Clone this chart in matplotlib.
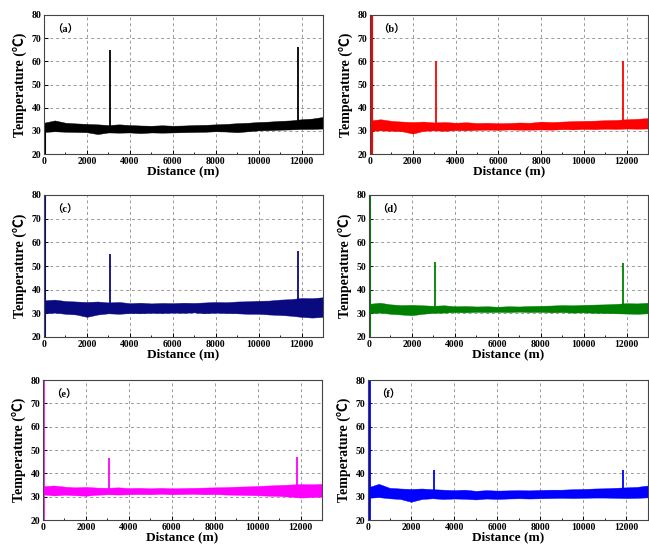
import matplotlib
matplotlib.use("Agg")
import matplotlib.pyplot as plt
import numpy as np

plt.rcParams['font.family'] = ['Liberation Serif', 'Noto Sans CJK SC']
plt.rcParams['font.weight'] = 'bold'

# distance grid of the envelope readings (m)
dist = np.arange(0, 13001, 500)

panel_tags = ["（a）", "（b）", "（c）", "（d）", "（e）", "（f）"]
colors = ["black", "#ff0000", "#0a0a80", "#008000", "#ff00ff", "#0000ff"]

# upper / lower edge of the noisy trace, read every 500 m
upper = [
    [33.5,34.5,33.5,33.2,33.0,32.8,32.5,32.8,32.5,32.3,32.2,32.4,32.2,32.3,32.5,32.6,32.8,33.0,33.3,33.5,33.8,34.0,34.3,34.5,35.0,35.3,36.0],
    [34.5,35.0,34.3,34.0,33.8,34.0,33.6,33.8,33.5,33.7,33.4,33.5,33.3,33.4,33.6,33.5,34.0,33.8,34.0,34.2,34.3,34.4,34.6,34.7,35.0,35.2,35.5],
    [35.5,35.8,35.2,35.0,34.8,35.0,34.6,34.8,34.3,34.5,34.2,34.4,34.3,34.5,34.4,34.6,34.8,34.7,35.0,35.1,35.3,35.4,35.8,36.0,36.5,36.4,36.8],
    [34.0,34.5,33.8,33.5,33.6,33.4,33.2,33.4,33.0,33.1,32.9,33.0,32.8,33.0,32.9,33.1,33.2,33.3,33.5,33.4,33.6,33.7,33.8,34.0,34.3,34.2,34.5],
    [34.5,34.8,34.3,34.0,34.2,33.9,33.8,34.0,33.7,33.8,33.6,33.8,33.6,33.7,33.8,33.9,34.0,34.1,34.3,34.4,34.6,34.8,35.0,35.2,35.4,35.3,35.5],
    [34.0,35.5,33.8,33.5,33.3,33.5,33.2,33.0,32.8,33.0,32.5,32.8,32.6,32.7,32.8,32.7,32.9,33.0,33.0,33.2,33.3,33.5,33.6,33.8,34.0,34.2,34.8],
]
lower = [
    [29.5,29.8,29.6,29.5,29.4,28.6,29.3,29.2,29.3,29.0,29.3,29.2,29.3,29.4,29.5,29.6,29.8,29.7,29.4,29.8,30.2,30.3,30.5,30.6,30.8,30.8,31.0],
    [30.0,30.2,30.0,29.8,28.8,30.0,30.2,30.0,30.3,30.2,30.4,30.5,30.4,30.6,30.5,30.5,30.6,30.5,30.7,30.6,30.8,30.7,30.9,30.8,31.0,30.9,31.0],
    [30.0,30.3,29.8,29.5,28.5,29.5,30.0,29.8,30.1,30.0,30.2,30.1,30.3,30.2,30.4,30.0,30.3,30.1,30.0,29.8,29.8,29.5,29.3,29.0,28.5,28.2,28.5],
    [30.0,30.3,29.8,29.5,29.2,29.8,30.2,30.3,30.5,30.4,30.6,30.5,30.6,30.5,30.7,30.5,30.6,30.4,30.5,30.3,30.4,30.2,30.1,30.0,29.9,29.8,30.0],
    [31.0,30.5,30.8,30.6,30.4,30.8,31.0,30.9,31.0,31.1,31.0,31.2,31.0,31.1,31.2,31.0,31.1,30.9,30.8,30.7,30.6,30.4,30.3,30.0,29.6,29.8,30.0],
    [29.5,29.8,29.3,29.0,27.8,29.0,29.3,29.0,29.2,29.1,28.8,29.2,29.0,29.2,29.3,29.2,29.3,29.4,29.5,29.4,29.5,29.6,29.6,29.5,29.4,29.5,29.7],
]

# hot spots
spike_x = [3080, 11820]
spike_base = [[31.0, 33.5], [32.0, 33.0], [32.5, 33.0], [32.0, 32.0], [32.5, 33.0], [31.0, 32.0]]
spike_peak = [[65, 66], [60, 60], [55, 56.5], [51.8, 51.3], [46.5, 47], [41.3, 41.3]]

# value at the first point (x ~ 0)
start_low = [20, 20, 20, 20, 20, 20]
start_high = [31, 80, 80, 80, 80, 80]
start_lw = [1.5, 3, 1.5, 1.5, 1.2, 2]

fig = plt.figure(figsize=(6.49, 5.45), dpi=100)
W, H = 649, 545
boxes = [(44, 15, 323, 154), (370, 15, 648, 154),
         (44, 195, 323, 337), (369, 195, 648, 337),
         (43, 380, 322, 520), (368, 380, 648, 520)]

for i in range(6):
    l, t, r, b = boxes[i]
    ax = fig.add_axes([l / W, 1 - b / H, (r - l) / W, (b - t) / H])
    c = colors[i]
    ax.fill_between(dist, lower[i], upper[i], color=c, lw=0.3, edgecolor=c)
    ax.vlines(spike_x, spike_base[i], spike_peak[i], color=c, lw=1.3)
    ax.vlines([25], start_low[i], start_high[i], color=c, lw=start_lw[i])

    ax.set_xlim(0, 13000)
    ax.set_ylim(20, 80)
    ax.set_xticks(np.arange(0, 12001, 2000))
    ax.set_xticks(np.arange(1000, 13000, 2000), minor=True)
    ax.set_yticks(np.arange(20, 81, 10))
    ax.tick_params(direction='in', labelsize=7, length=3, width=0.7, pad=2)
    ax.tick_params(which='minor', direction='in', length=1.8, width=0.6)
    for lab in ax.get_xticklabels() + ax.get_yticklabels():
        lab.set_fontweight('bold')
    ax.grid(True, color='#9a9a9a', linestyle=(0, (3, 3)), lw=0.7)
    ax.set_axisbelow(True)
    for sp in ax.spines.values():
        sp.set_color('#444444')
        sp.set_linewidth(0.8)
    ax.set_xlabel("Distance (m)", fontsize=9.5, fontweight='bold', labelpad=0)
    ax.set_ylabel("Temperature (℃)", fontsize=10, fontweight='bold', labelpad=3)
    ax.text(0.03, 0.93, panel_tags[i], transform=ax.transAxes, fontsize=7.5,
            fontweight='bold', va='top', ha='left')

fig.savefig("out.png", dpi=100)
